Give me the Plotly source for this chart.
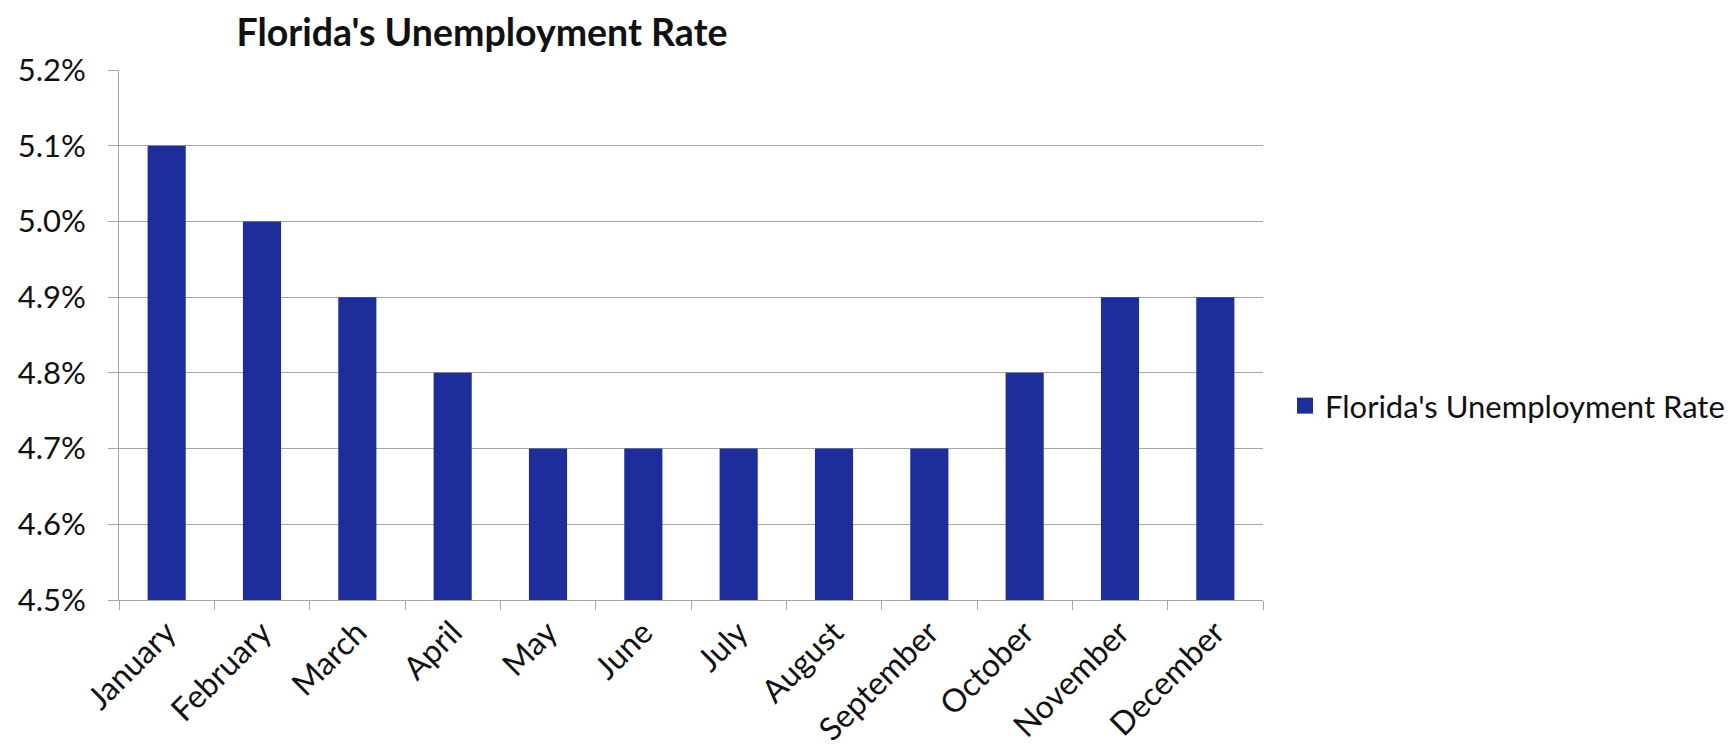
import plotly.graph_objects as go

months = ["January", "February", "March", "April", "May", "June", "July",
          "August", "September", "October", "November", "December"]
rates = [5.1, 5.0, 4.9, 4.8, 4.7, 4.7, 4.7, 4.7, 4.7, 4.8, 4.9, 4.9]
series_name = "Florida's Unemployment Rate"
title_text = "Florida's Unemployment Rate"
y_ticks = [4.5, 4.6, 4.7, 4.8, 4.9, 5.0, 5.1, 5.2]

FONT = "Lato"
BAR = "#1E2D9C"
GRID = "#A6A6A6"
TXT = "#111111"

fig = go.Figure()
fig.add_trace(go.Bar(x=months, y=rates, name=series_name, marker_color=BAR,
                     marker_line_width=0, showlegend=False))
# legend entry (square swatch like the original)
fig.add_trace(go.Scatter(x=[None], y=[None], mode="markers", name=series_name,
                         marker=dict(symbol="square", size=17, color=BAR),
                         showlegend=True, hoverinfo="skip"))

W, H = 1734, 745
L, R, T, B = 111, 479, 62, 153
PW = W - L - R
PH = H - T - B
fig.update_layout(
    width=W, height=H,
    margin=dict(l=L, r=R, t=T, b=B, autoexpand=False),
    paper_bgcolor="white", plot_bgcolor="white",
    bargap=0.6,
    font=dict(family=FONT, color=TXT),
    title=dict(text="<b>" + title_text + "</b>", x=(474 - L) / PW, xanchor="center",
               xref="paper", y=1 - 25 / H, yref="container", yanchor="middle",
               font=dict(family=FONT, size=37.5, color=TXT)),
    showlegend=True,
    legend=dict(x=(1277 - L) / PW, xanchor="left", y=(592 - 398) / PH, yanchor="middle",
                font=dict(family=FONT, size=31, color=TXT),
                bgcolor="rgba(0,0,0,0)", itemsizing="trace"),
    xaxis=dict(type="category", showgrid=False, showline=True, linecolor=GRID, linewidth=1,
               ticks="outside", tickson="boundaries", ticklen=9, tickcolor=GRID,
               tickangle=-45, ticklabelstandoff=0,
               tickfont=dict(family=FONT, size=32, color=TXT)),
    yaxis=dict(range=[4.5, 5.2], tickvals=y_ticks, ticktext=[f"{v:.1f}%" for v in y_ticks],
               showgrid=True, gridcolor=GRID, gridwidth=1, zeroline=False,
               showline=True, linecolor=GRID, linewidth=1,
               ticks="outside", ticklen=10, tickcolor=GRID, ticklabelstandoff=16,
               tickfont=dict(family=FONT, size=31, color=TXT)),
)

fig.write_html("out.html")
